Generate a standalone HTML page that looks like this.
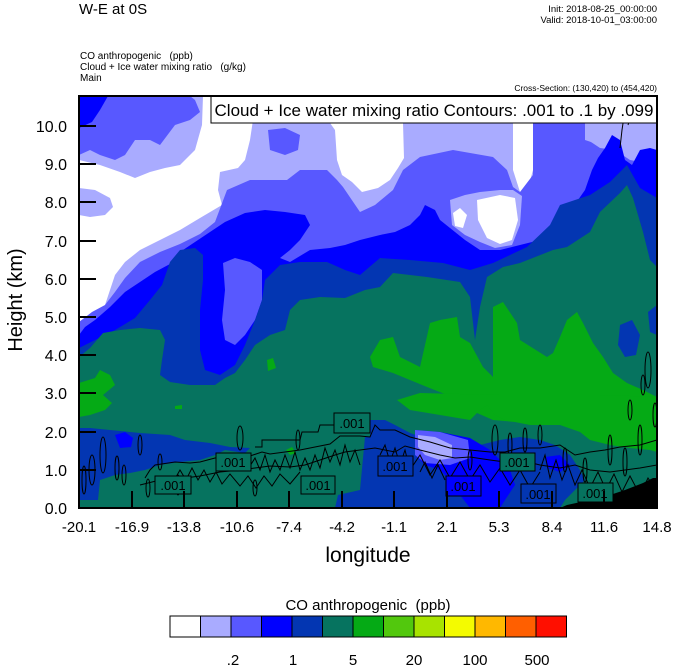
<!DOCTYPE html>
<html><head><meta charset="utf-8"><style>
html,body{margin:0;padding:0;background:#fff;}
svg{display:block;font-family:"Liberation Sans",Arial,sans-serif;}
</style></head><body>
<svg width="674" height="667" viewBox="0 0 674 667" xmlns="http://www.w3.org/2000/svg">
<defs><clipPath id="c"><rect x="79" y="96" width="578" height="412"/></clipPath></defs>
<g clip-path="url(#c)">
<rect x="79" y="96" width="578" height="412" fill="#a9abff"/>
<polygon fill="#fff" points="79,160 100,165 120,172 135,178 150,172 165,168 180,165 195,150 202,125 203,96 253,96 253,120 250,140 245,160 238,168 220,172 218,190 222,205 200,218 180,230 160,240 140,250 125,262 115,275 110,290 105,305 100,318 92,325 79,328"/>
<polygon fill="#a9abff" points="79,188 95,190 110,198 113,207 105,215 90,217 79,215"/>
<polygon fill="#fff" points="317,123 330,123 335,130 337,160 342,175 352,182 362,192 378,188 390,180 398,168 404,158 403,123"/>
<polygon fill="#fff" points="513,122 533,122 533,170 528,188 520,192 513,170"/>
<polygon fill="#5858ff" points="79,96 79,155 90,150 100,155 115,160 125,155 135,140 150,140 160,145 175,125 190,120 200,112 195,100 190,96"/>
<polygon fill="#0000ff" points="79,96 79,128 92,122 100,110 108,96"/>
<polygon fill="#5858ff" points="268,130 285,128 300,135 298,150 285,155 270,150"/>
<polygon fill="#5858ff" points="79,322 92,312 105,305 115,292 125,278 140,262 160,252 180,244 200,234 215,222 227,190 250,180 287,180 300,170 327,170 337,180 343,187 360,212 375,205 393,190 403,170 420,157 453,150 493,157 507,170 513,187 520,192 533,175 533,122 585,122 585,140 615,150 630,160 657,165 657,508 79,508"/>
<polygon fill="#a9abff" points="450,200 465,195 480,192 500,190 513,190 522,196 520,225 512,245 495,248 480,242 465,235 452,225"/>
<polygon fill="#fff" points="477,200 500,195 515,198 518,220 512,240 500,244 487,238 478,220"/>
<polygon fill="#fff" points="453,213 460,208 467,215 463,228 455,226"/>
<polygon fill="#a9abff" points="585,122 615,122 615,150 600,148 588,140"/>
<polygon fill="#a9abff" points="628,122 657,122 657,160 645,158 635,150"/>
<polygon fill="#0000ff" points="79,335 85,327 95,320 110,307 125,292 140,282 155,272 170,264 180,252 195,242 210,232 225,222 245,213 265,210 285,212 305,215 310,225 300,240 290,250 280,258 290,262 310,250 330,248 345,245 360,240 380,235 395,232 410,225 420,215 425,205 435,210 440,220 450,228 465,240 480,250 500,250 520,245 540,240 550,232 560,222 570,210 578,200 585,190 592,170 598,158 605,148 612,135 620,140 625,160 632,165 640,150 650,148 657,150 657,508 79,508"/>
<polygon fill="#5858ff" points="223,263 235,258 250,262 262,270 262,300 255,320 245,335 235,345 225,340 222,320 225,290"/>
<polygon fill="#0336b2" points="79,348 95,340 115,330 135,318 150,300 162,285 170,262 180,250 195,248 203,255 203,280 200,310 200,350 205,370 220,375 235,365 245,345 255,320 262,300 265,280 280,265 300,262 327,262 345,270 360,275 380,258 410,260 443,263 470,270 493,263 527,247 550,225 560,205 575,200 590,195 610,182 627,165 640,188 657,198 657,508 79,508"/>
<polygon fill="#06735f" points="79,357 90,348 103,333 120,330 140,328 160,330 165,340 162,360 160,375 170,382 190,385 215,385 225,378 235,373 245,360 255,345 270,335 285,330 290,310 300,300 320,297 345,298 365,290 380,287 393,273 427,277 460,282 470,297 475,340 480,307 487,277 503,267 520,263 553,250 567,247 590,232 600,212 620,193 627,185 633,198 643,232 650,260 657,267 657,508 79,508"/>
<polygon fill="#0336b2" points="620,325 632,320 640,335 636,355 625,357 618,345"/>
<polygon fill="#0336b2" points="648,312 657,305 657,335 650,332"/>
<polygon fill="#05aa15" points="370,357 380,340 393,337 400,357 420,367 430,323 440,320 457,317 460,337 470,343 483,367 493,377 493,307 503,302 517,323 520,340 547,357 553,353 560,337 567,320 577,312 583,323 593,343 603,357 613,373 627,383 643,390 657,397 657,423 650,430 627,433 593,423 560,420 527,423 493,420 477,413 460,400 427,387 393,373 373,367"/>
<polygon fill="#05aa15" points="79,383 95,378 100,370 110,375 115,385 103,395 112,403 105,410 90,415 79,417"/>
<polygon fill="#05aa15" points="267,360 273,358 276,368 268,371"/>
<polygon fill="#05aa15" points="175,406 182,405 182,409 175,409"/>
<polygon fill="#05aa15" points="286,450 292,447 296,453 290,455"/>
<polygon fill="#05aa15" points="397,400 410,410 440,415 470,420 480,410 487,405 495,415 505,420 530,425 560,425 580,432 590,440 610,445 630,448 650,450 657,452 657,397 600,395 500,395 420,393"/>
<polygon fill="#0336b2" points="79,428 90,428 110,430 140,433 170,435 185,440 210,443 230,447 250,448 245,453 225,450 215,455 200,460 180,462 160,465 145,470 130,473 115,475 100,480 98,500 79,500"/>
<polygon fill="#0000ff" points="115,435 125,432 133,438 131,447 120,448"/>
<polygon fill="#0336b2" points="365,437 378,435 378,508 335,508 338,495 360,490"/>
<polygon fill="#0336b2" points="370,420 385,420 395,425 410,433 430,440 460,445 480,445 500,440 520,437 540,440 555,445 570,455 580,470 585,480 575,490 565,500 560,508 370,508"/>
<polygon fill="#0000ff" points="415,430 440,432 470,438 490,450 500,460 510,470 515,485 505,500 500,508 470,508 460,495 450,480 440,470 425,465 415,455"/>
<polygon fill="#5858ff" points="415,430 440,432 468,440 470,458 450,465 425,463 415,455"/>
<polygon fill="#a9abff" points="418,435 435,437 452,445 452,458 440,460 425,455 418,447"/>
<polygon fill="#0000ff" points="545,457 560,455 570,465 560,472 548,468"/>
<polygon fill="#000" points="560,508 567,505 590,500 610,495 625,490 643,483 653,478 657,478 657,508"/>
<g fill="none" stroke="#000" stroke-width="1">
<polyline points="145,478 150,470 155,465 175,462 190,463 200,462 215,458 230,456 250,456 262,452 270,454 285,452 300,450 315,447 330,444 335,440 340,436 360,436 370,437 375,425 380,430 395,430 410,437 430,442 450,448 470,450 490,452 505,452 520,448 540,448 560,445 575,455 590,452 605,450 620,447 640,445 657,440"/>
<polyline points="140,485 160,480 185,478 200,476 220,472 240,470 255,468 270,466 290,467 305,465 320,460 335,455 345,452 360,450 375,448 395,452 405,446 420,450 440,455 455,458 470,457 490,460 505,462 520,460 540,465 560,468 575,465 590,470 610,472 625,470 640,468 657,465"/>
<polyline points="250,466 255,458 260,470 265,455 270,472 275,460 280,470 285,455 290,468 295,452 300,470 305,458 310,470 315,455 320,468 325,448 330,462 335,450 340,465 345,445 350,462 355,450 360,465"/>
<polyline points="380,455 385,445 390,462 395,448 400,465 405,450 410,470 420,455 430,475 440,460 450,478 460,462 470,480 480,465 490,482 500,468 510,485 520,470 530,488 540,472"/>
<polyline points="176,477 180,470 186,480 192,468 198,480 204,470 210,482 216,472 222,484 230,474 240,486 248,476 256,488 264,476 272,486 280,474 290,484 300,472"/>
<polyline points="255,447 262,447 262,440 300,440 302,432 318,432 320,425 334,425"/>
<polyline points="420,472 425,462 432,478 438,465 445,480"/>
<polyline points="540,470 545,455 550,478 556,460 562,480 568,465 575,485 582,470 590,488 598,472 606,490 614,474 622,492 630,476 640,495 648,478 657,492"/>
<ellipse cx="103" cy="455" rx="3" ry="18"/><ellipse cx="117" cy="468" rx="2" ry="12"/>
<ellipse cx="140" cy="445" rx="2" ry="10"/><ellipse cx="160" cy="462" rx="2" ry="8"/>
<ellipse cx="92" cy="470" rx="3" ry="15"/><ellipse cx="148" cy="488" rx="2" ry="9"/>
<ellipse cx="84" cy="480" rx="2" ry="14"/><ellipse cx="124" cy="475" rx="2" ry="10"/>
<ellipse cx="240" cy="438" rx="3" ry="12"/><ellipse cx="178" cy="485" rx="2" ry="10"/>
<ellipse cx="255" cy="488" rx="2" ry="8"/><ellipse cx="298" cy="440" rx="2" ry="10"/>
<ellipse cx="540" cy="435" rx="2" ry="10"/><ellipse cx="565" cy="460" rx="2" ry="12"/>
<ellipse cx="585" cy="470" rx="2" ry="12"/><ellipse cx="610" cy="450" rx="2" ry="15"/>
<ellipse cx="625" cy="462" rx="2" ry="14"/><ellipse cx="640" cy="440" rx="2" ry="15"/>
<ellipse cx="648" cy="370" rx="3" ry="18"/><ellipse cx="630" cy="410" rx="2" ry="10"/>
<ellipse cx="655" cy="415" rx="2" ry="12"/><ellipse cx="643" cy="385" rx="2" ry="10"/>
<ellipse cx="495" cy="440" rx="3" ry="15"/><ellipse cx="525" cy="440" rx="2" ry="12"/>
<ellipse cx="510" cy="445" rx="2" ry="12"/><ellipse cx="470" cy="460" rx="2" ry="10"/>
<polyline points="625,96 625,110 622,130 620,148"/><polyline points="630,96 633,110 628,125"/>
</g>
<g font-size="13" stroke="none">
<rect x="155" y="476" width="36" height="18" fill="#06735f" stroke="#000"/><text x="173" y="490" text-anchor="middle">.001</text>
<rect x="216" y="453" width="35" height="18" fill="#06735f" stroke="#000"/><text x="233" y="467" text-anchor="middle">.001</text>
<rect x="301" y="476" width="34" height="18" fill="#06735f" stroke="#000"/><text x="318" y="490" text-anchor="middle">.001</text>
<rect x="334" y="413" width="36" height="20" fill="#06735f" stroke="#000"/><text x="352" y="428" text-anchor="middle">.001</text>
<rect x="378" y="456" width="35" height="20" fill="#0336b2" stroke="#000"/><text x="395" y="471" text-anchor="middle">.001</text>
<rect x="446" y="476" width="35" height="20" fill="#0000ff" stroke="#000"/><text x="463" y="491" text-anchor="middle">.001</text>
<rect x="500" y="453" width="35" height="18" fill="#06735f" stroke="#000"/><text x="517" y="467" text-anchor="middle">.001</text>
<rect x="521" y="484" width="35" height="19" fill="#0336b2" stroke="#000"/><text x="538" y="499" text-anchor="middle">.001</text>
<rect x="578" y="483" width="35" height="19" fill="#06735f" stroke="#000"/><text x="595" y="498" text-anchor="middle">.001</text>
</g>
</g>
<rect x="211" y="96" width="446" height="27" fill="#fff" stroke="#000" stroke-width="1"/>
<text x="434" y="116" font-size="17" text-anchor="middle">Cloud + Ice water mixing ratio Contours: .001 to .1 by .099</text>
<rect x="79" y="96" width="578" height="412" fill="none" stroke="#000" stroke-width="2"/>
<g stroke="#000" stroke-width="2">
<line x1="79" y1="126" x2="96" y2="126"/><line x1="79" y1="164" x2="96" y2="164"/><line x1="79" y1="202" x2="96" y2="202"/><line x1="79" y1="241" x2="96" y2="241"/><line x1="79" y1="279" x2="96" y2="279"/><line x1="79" y1="317" x2="96" y2="317"/><line x1="79" y1="355" x2="96" y2="355"/><line x1="79" y1="393" x2="96" y2="393"/><line x1="79" y1="432" x2="96" y2="432"/><line x1="79" y1="470" x2="96" y2="470"/>
<line x1="132" y1="508" x2="132" y2="491"/><line x1="184" y1="508" x2="184" y2="491"/><line x1="237" y1="508" x2="237" y2="491"/><line x1="289" y1="508" x2="289" y2="491"/><line x1="342" y1="508" x2="342" y2="491"/><line x1="394" y1="508" x2="394" y2="491"/><line x1="447" y1="508" x2="447" y2="491"/><line x1="499" y1="508" x2="499" y2="491"/><line x1="552" y1="508" x2="552" y2="491"/><line x1="604" y1="508" x2="604" y2="491"/>
</g>
<g font-size="16" text-anchor="end">
<text x="67" y="132">10.0</text><text x="67" y="170">9.0</text><text x="67" y="208">8.0</text><text x="67" y="247">7.0</text><text x="67" y="285">6.0</text><text x="67" y="323">5.0</text><text x="67" y="361">4.0</text><text x="67" y="399">3.0</text><text x="67" y="438">2.0</text><text x="67" y="476">1.0</text><text x="67" y="514">0.0</text>
</g>
<g font-size="15" text-anchor="middle">
<text x="79" y="532">-20.1</text><text x="132" y="532">-16.9</text><text x="184" y="532">-13.8</text><text x="237" y="532">-10.6</text><text x="289" y="532">-7.4</text><text x="342" y="532">-4.2</text><text x="394" y="532">-1.1</text><text x="447" y="532">2.1</text><text x="499" y="532">5.3</text><text x="552" y="532">8.4</text><text x="604" y="532">11.6</text><text x="657" y="532">14.8</text>
</g>
<text x="368" y="562" font-size="21" text-anchor="middle">longitude</text>
<text transform="translate(22,300) rotate(-90)" font-size="20" text-anchor="middle">Height (km)</text>
<text x="79" y="14" font-size="15">W-E at 0S</text>
<text x="657" y="12" font-size="9.5" text-anchor="end">Init: 2018-08-25_00:00:00</text>
<text x="657" y="23" font-size="9.5" text-anchor="end">Valid: 2018-10-01_03:00:00</text>
<text x="80" y="59" font-size="10">CO anthropogenic &#160;&#160;(ppb)</text>
<text x="80" y="70" font-size="10">Cloud + Ice water mixing ratio &#160;&#160;(g/kg)</text>
<text x="80" y="81" font-size="10">Main</text>
<text x="657" y="91" font-size="8.5" text-anchor="end">Cross-Section: (130,420) to (454,420)</text>
<text x="368" y="610" font-size="15" text-anchor="middle">CO anthropogenic &#160;(ppb)</text>
<g stroke="#000" stroke-width="1">
<rect x="170" y="616" width="30.5" height="21" fill="#ffffff"/>
<rect x="200.5" y="616" width="30.5" height="21" fill="#a9abff"/>
<rect x="231" y="616" width="30.5" height="21" fill="#5858ff"/>
<rect x="261.5" y="616" width="30.5" height="21" fill="#0000ff"/>
<rect x="292" y="616" width="30.5" height="21" fill="#0336b2"/>
<rect x="322.5" y="616" width="30.5" height="21" fill="#06735f"/>
<rect x="353" y="616" width="30.5" height="21" fill="#05aa15"/>
<rect x="383.5" y="616" width="30.5" height="21" fill="#52c80d"/>
<rect x="414" y="616" width="30.5" height="21" fill="#a8e300"/>
<rect x="444.5" y="616" width="30.5" height="21" fill="#f4fb00"/>
<rect x="475" y="616" width="30.5" height="21" fill="#ffb800"/>
<rect x="505.5" y="616" width="30.5" height="21" fill="#ff5f00"/>
<rect x="536" y="616" width="30.5" height="21" fill="#ff0f00"/>
</g>
<g font-size="15" text-anchor="middle">
<text x="233" y="665">.2</text><text x="293" y="665">1</text><text x="353" y="665">5</text><text x="414" y="665">20</text><text x="475" y="665">100</text><text x="537" y="665">500</text>
</g>
</svg>
</body></html>
